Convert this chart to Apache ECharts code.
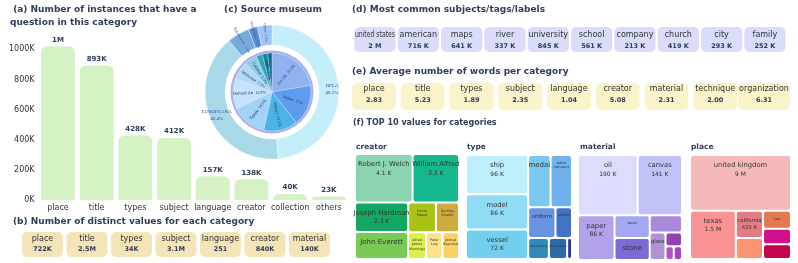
<!DOCTYPE html>
<html><head><meta charset="utf-8">
<script src="https://cdn.jsdelivr.net/npm/echarts@6/dist/echarts.min.js"></script>
<style>html,body{margin:0;padding:0;background:#fff}#c{width:798px;height:263px}</style>
</head><body><div id="c"></div>
<script>
// ---------- DATA ----------
// (a) instances with a question per category
const instCategories = ['place','title','types','subject','language','creator','collection','others'];
const instValues = [1020000, 893000, 428000, 412000, 157000, 138000, 40000, 23000];
const instTicks = [0, 200000, 400000, 600000, 800000, 1000000];
// (b) distinct values per category
const distinctNames = ['place','title','types','subject','language','creator','material'];
const distinctLabels = ['722K','2.5M','34K','3.1M','251','840K','140K'];
// (c) source museum
const outerNames = ['DPLA','EUROPEANA','Rijksmuseum','Smithsonian','Others'];
const outerValues = [48.5, 40.4, 5.4, 2.2, 3.5];
const innerNames = ['Art UK','Indian','Wikiart','Tepapa','Harvard Art','Wellcome','Colonial','Cleveland','Rijks','Others'];
const innerValues = [22.3, 17, 14.1, 14.5, 12.8, 7.5, 5.3, 2.5, 2.2, 1.8];
// (d) most common subjects
const tagNames = ['united states','american','maps','river','university','school','company','church','city','family'];
const tagLabels = ['2 M','716 K','641 K','337 K','845 K','561 K','213 K','419 K','293 K','252 K'];
// (e) average number of words
const wordCategories = ['place','title','types','subject','language','creator','material','technique','organization'];
const wordAverages = [2.83, 5.23, 1.89, 2.35, 1.04, 5.08, 2.31, 2.00, 6.31];
// (f) top values
const creatorNames = ['Robert J. Welch','William Alfred','Joseph Hardman','John Everett','Henry Moore','Godfrey Kneller','Alfred James Munnings','Joshua Reynolds','Peter Lely'];
const creatorValues = [4100, 3300, 2300, 2100, 1200, 1000, 700, 650, 650];
const typeNames = ['ship','model','vessel','medal','water transport','uniform','artifact','accessory','document','textile'];
const typeValues = [96000, 86000, 72000, 46000, 44000, 33000, 20000, 17000, 15000, 4000];
const materialNames = ['oil','canvas','paper','wood','stone','bronze','glass','fiber','silver','metal'];
const materialValues = [190000, 141000, 86000, 42000, 41000, 29000, 23000, 12000, 6000, 6000];
const placeNames = ['united kingdom','texas','california','MA','new york','washington','LA'];
const placeValues = [9000000, 1500000, 425000, null, null, null, null];
const placeAreas = [5148, 2016, 676, 520, 459, 392, 380];

// ---------- STYLE ----------
const FONT = 'DejaVu Sans';
const NAVY = '#2e3d5a';
const GOLDEN = 0.5 * (1 + Math.sqrt(5));
const creatorColors = ['#8bd5b3','#14b98d','#12a862','#7acb55','#a9c214','#cfab3e','#d9ef4a','#fbd163','#fde28a'];
const typeColors = ['#bfeefc','#90dcf5','#72d0ef','#7ac8ef','#72b2ec','#6a92e2','#4272c2','#3089b9','#2e6aa8','#2b3a8c'];
const materialColors = ['#dcdcfc','#c2c2f8','#b2a2e9','#a3a9f1','#7b6bd2','#aa8ad8','#b192d2','#9142b1','#a342c3','#b552c9'];
const placeColors = ['#f6b9b9','#f99292','#e27c84','#fb9470','#e27a52','#d1118b','#c3034b'];
const outerColors = ['#c5eefb','#a9d9e8','#74acdc','#5a8ed4','#9fc3f2'];
const innerColors = ['#90b2ee','#5f9ced','#4cb3e4','#a0d3f6','#c7e3fb','#b4d9f6','#8ecfe6','#2aa5b8','#138a9e','#0b6f86'];

const tiers = {
  'Robert J. Welch':'big','William Alfred':'big','Joseph Hardman':'big','John Everett':'mid',
  'ship':'big','model':'big','vessel':'big','medal':'mid','uniform':'small','textile':'none',
  'oil':'big','canvas':'big','paper':'big','stone':'mid','bronze':'small','glass':'small','fiber':'small','silver':'none','metal':'none',
  'united kingdom':'big','texas':'big','california':'smallv','MA':'mid','LA':'mid'
};

const mctx = document.createElement('canvas').getContext('2d');
function textW(t, font){ mctx.font = font; return mctx.measureText(t).width; }

function fmtK(v){
  if (v >= 1e6) return (Math.round(v/1e5)/10) + ' M';
  if (v >= 1e4) return Math.round(v/1000) + ' K';
  return (Math.round(v/100)/10) + ' K';
}

function boxSeries(axisIdx, names, labels, o){
  return {
    type:'custom', xAxisIndex:axisIdx, yAxisIndex:axisIdx, silent:true,
    data: names.map((n,i)=>[i,0.5]),
    renderItem: function(params, api){
      const i = api.value(0);
      const c = api.coord([i, 0.5]);
      const s = api.size([1, 1]);
      const nameFont = '8px "' + FONT + '"';
      const tw = textW(names[i], nameFont);
      let w = Math.max(s[0]*o.wr, o.grow ? tw + 2 : 0);
      const h = s[1];
      const x = c[0]-w/2, y = c[1]-h/2;
      const k = tw > w - 1 ? (w - 1)/tw : 1;
      return {type:'group', children:[
        {type:'rect', shape:{x:x,y:y,width:w,height:h,r:5}, style:{fill:o.fill}},
        {type:'text', x:c[0], y:y+o.ny, scaleX:k, style:{text:names[i], x:0, y:0, align:'center', verticalAlign:'middle', font:nameFont, fill:'#333'}},
        {type:'text', x:c[0], y:y+o.vy, style:{text:labels[i], x:0, y:0, align:'center', verticalAlign:'middle', font:'bold 6.5px "' + FONT + '"', fill:NAVY}}
      ]};
    }
  };
}

function treeSeries(names, areas, shown, colors, box, ratio){
  return {
    type:'treemap', left:box[0], top:box[1], width:box[2], height:box[3], squareRatio:ratio,
    roam:false, nodeClick:false, silent:true, breadcrumb:{show:false},
    itemStyle:{borderWidth:0, gapWidth:2, borderRadius:2, borderColor:'#fff'},
    levels:[{itemStyle:{borderWidth:0, gapWidth:2}}],
    upperLabel:{show:false},
    label:{
      show:true, position:'inside', color:'#333', fontFamily:FONT, overflow:'none',
      formatter: function(p){
        const i = names.indexOf(p.name);
        const t = tiers[p.name] || 'tiny';
        const v = shown[i];
        if (t === 'big') return '{b|' + p.name + '}\n{v|' + fmtK(v) + '}';
        if (t === 'mid') return '{m|' + p.name + '}';
        if (t === 'smallv') return '{s|' + p.name + '}\n{sv|' + fmtK(v) + '}';
        if (t === 'small') return '{s|' + p.name + '}';
        if (t === 'none') return '';
        return p.name.split(' ').map(w => '{t|' + w + '}').join('\n');
      },
      rich:{
        b:{fontSize:6.8, lineHeight:9, color:'#333', fontFamily:FONT},
        v:{fontSize:6, lineHeight:8, color:'#333', fontFamily:FONT},
        m:{fontSize:7, lineHeight:9, color:'#333', fontFamily:FONT},
        s:{fontSize:5.3, lineHeight:7, color:'#333', fontFamily:FONT},
        sv:{fontSize:5.3, lineHeight:7, color:'#333', fontFamily:FONT},
        t:{fontSize:3.4, lineHeight:4.2, color:'#333', fontFamily:FONT}
      }
    },
    data: names.map((n,i)=>({name:n, value:areas[i], itemStyle:{color:colors[i]}}))
  };
}

function titleItem(text, left, top, size, extra){
  return Object.assign({text:text, left:left, top:top, padding:0,
    textStyle:{fontSize:size, fontWeight:'bold', color:NAVY, fontFamily:FONT, lineHeight:13}}, extra||{});
}

const chart = echarts.init(document.getElementById('c'), null, {renderer:'canvas'});

const outerData = outerNames.map((n,i)=>{
  const big = outerValues[i] > 20;
  return {name:n, value:outerValues[i], itemStyle:{color:outerColors[i]},
    label: big ? {rotate:0, fontSize:5, lineHeight:7, formatter:'{b}\n{c}%'} : {rotate:'radial', fontSize:3.6, formatter:'{b}  {c}%'}};
});
const innerData = innerNames.map((n,i)=>({name:n, value:innerValues[i], itemStyle:{color:innerColors[i]}}));

chart.setOption({
  animation:false,
  textStyle:{fontFamily:FONT},
  title:[
    titleItem(' (a) Number of instances that have a\nquestion in this category', 10, 3.5, 9),
    titleItem('(b) Number of distinct values for each category', 13, 215, 9),
    titleItem('(c) Source museum', 273, 3.5, 9, {textAlign:'center'}),
    titleItem('(d) Most common subjects/tags/labels', 352, 3.5, 9),
    titleItem('(e) Average number of words per category', 352, 65.5, 9),
    titleItem('(f) TOP 10 values for categories', 353, 116.5, 8),
    titleItem('creator', 356, 141, 7.5),
    titleItem('type', 467, 141, 7.5),
    titleItem('material', 580, 141, 7.5),
    titleItem('place', 691, 141, 7.5)
  ],
  grid:[
    {left:38.6, top:49.3, width:309.6, height:150.7},
    {left:20.2, top:232, width:311.5, height:25},
    {left:353.3, top:27, width:433.3, height:25},
    {left:349.6, top:83, width:438.75, height:27}
  ],
  xAxis:[
    {type:'category', gridIndex:0, data:instCategories, axisLine:{show:false}, axisTick:{show:false},
      axisLabel:{fontSize:8, color:'#333', margin:4, interval:0}},
    {type:'category', gridIndex:1, data:distinctNames, show:false},
    {type:'category', gridIndex:2, data:tagNames, show:false},
    {type:'category', gridIndex:3, data:wordCategories, show:false}
  ],
  yAxis:[
    {type:'value', gridIndex:0, min:instTicks[0], max:instTicks[instTicks.length-1], interval:instTicks[1]-instTicks[0],
      splitLine:{show:false}, axisLine:{show:false}, axisTick:{show:false},
      axisLabel:{fontSize:8, color:'#333', margin:4, formatter:v => (v/1000) + 'K'}},
    {type:'value', gridIndex:1, min:0, max:1, show:false},
    {type:'value', gridIndex:2, min:0, max:1, show:false},
    {type:'value', gridIndex:3, min:0, max:1, show:false}
  ],
  series:[
    {type:'bar', xAxisIndex:0, yAxisIndex:0, data:instValues, barWidth:34, clip:false, silent:true,
      itemStyle:{color:'#d5f2c5', borderRadius:[6,6,0,0]},
      label:{show:true, position:'top', distance:3, fontSize:7, fontWeight:'bold', color:NAVY,
        formatter:p => p.value >= 1e6 ? Math.round(p.value/1e6) + 'M' : Math.round(p.value/1000) + 'K'}},
    boxSeries(1, distinctNames, distinctLabels, {wr:0.92, fill:'#f3e5b7', ny:7, vy:17, grow:true}),
    boxSeries(2, tagNames, tagLabels, {wr:0.95, fill:'#d9dcfb', ny:8, vy:19, grow:false}),
    boxSeries(3, wordCategories, wordAverages.map(v => v.toFixed(2)), {wr:0.9, fill:'#fbf4cb', ny:6, vy:17, grow:true}),
    {type:'pie', center:[272,92], radius:[47,67], startAngle:90, clockwise:true, silent:true, avoidLabelOverlap:false,
      itemStyle:{borderColor:'#fff', borderWidth:0.4},
      label:{show:true, position:'inside', color:'#3a48a8', fontFamily:'Liberation Serif'},
      labelLine:{show:false}, data:outerData},
    {type:'pie', center:[272,92], radius:[39,41.5], silent:true, label:{show:false}, labelLine:{show:false},
      itemStyle:{color:'#a9b0ee'}, data:[{value:1, name:'ring'}]},
    {type:'pie', center:[272,92], radius:[0,39], startAngle:90, clockwise:true, silent:true, avoidLabelOverlap:false,
      itemStyle:{borderColor:'#d6def8', borderWidth:0.4},
      label:{show:true, position:'inside', rotate:'radial', fontSize:4.2, color:'#1f2a66', fontFamily:'Liberation Serif',
        formatter:p => p.name + '  ' + p.value + '%'},
      labelLine:{show:false}, data:innerData},
    treeSeries(creatorNames, creatorValues, creatorValues, creatorColors, [356,155,102,103], 1),
    treeSeries(typeNames, typeValues, typeValues, typeColors, [467,156,104,102], GOLDEN),
    treeSeries(materialNames, materialValues, materialValues, materialColors, [579,156,102,103], 1),
    treeSeries(placeNames, placeAreas, placeValues, placeColors, [691,156,99,102], 1)
  ]
});
</script>
</body></html>
